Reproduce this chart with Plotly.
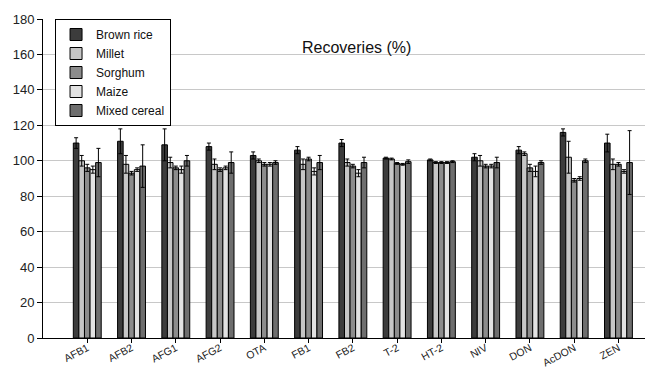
import plotly.graph_objects as go

analytes = ["AFB1", "AFB2", "AFG1", "AFG2", "OTA", "FB1", "FB2",
            "T-2", "HT-2", "NIV", "DON", "AcDON", "ZEN"]

brown_rice = [110, 111, 109, 108, 103, 106, 110, 101.5, 100.5, 102, 106, 116, 110]
brown_rice_sd = [3, 7, 9, 2, 2, 2, 2, 0.5, 0.5, 2, 2, 2, 5]

millet = [100, 98, 99, 98, 100, 98, 99, 101, 99, 100, 104, 102, 98]
millet_sd = [3, 5, 3, 3, 1, 3, 2, 0.5, 0.5, 3, 1, 9, 3]

sorghum = [96, 93, 96, 95, 98, 101, 97, 98.5, 99, 97, 96, 89, 98]
sorghum_sd = [2, 1, 1, 1, 1, 1, 1, 0.5, 0.5, 1, 2, 1, 1]

maize = [95, 95, 95, 96, 98, 94, 93, 98, 99, 97, 94, 90, 94]
maize_sd = [2, 1, 2, 1, 1, 2, 2, 0.5, 0.5, 1, 3, 1, 1]

mixed_cereal = [99, 97, 100, 99, 99, 99, 99, 99.5, 99.5, 99, 99, 100, 99]
mixed_cereal_sd = [8, 12, 3, 6, 1, 4, 3, 1, 0.5, 3, 1, 1, 18]

series = [
    ("Brown rice", brown_rice, brown_rice_sd, "#3c3c3c"),
    ("Millet", millet, millet_sd, "#c6c6c6"),
    ("Sorghum", sorghum, sorghum_sd, "#8c8c8c"),
    ("Maize", maize, maize_sd, "#e2e2e2"),
    ("Mixed cereal", mixed_cereal, mixed_cereal_sd, "#6e6e6e"),
]

fig = go.Figure()
for name, vals, sd, color in series:
    fig.add_trace(go.Bar(
        name=name, x=analytes, y=vals,
        marker=dict(color=color, line=dict(color="#000000", width=1)),
        error_y=dict(type="data", array=sd, visible=True,
                     color="#000000", thickness=1, width=2),
    ))

font_family = "Liberation Sans, Arial, sans-serif"

fig.update_layout(
    width=649, height=369,
    margin=dict(l=43, r=4, t=19, b=31),
    paper_bgcolor="white", plot_bgcolor="white",
    barmode="group", bargap=0.37, bargroupgap=0,
    font=dict(family=font_family, color="#222222"),
    showlegend=True,
    legend=dict(
        x=0.02, y=1.0, xanchor="left", yanchor="top",
        bgcolor="white", bordercolor="#000000", borderwidth=1,
        font=dict(size=12, family=font_family, color="#111111"),
        tracegroupgap=0, itemwidth=30,
    ),
    annotations=[dict(
        text="Recoveries (%)", x=0.52, y=0.945, xref="paper", yref="paper",
        showarrow=False, font=dict(size=16, family=font_family, color="#111111"),
    )],
)

fig.update_xaxes(
    type="category", range=[-1, 12.6], automargin=False,
    showline=True, linecolor="#000000", linewidth=1,
    ticks="outside", ticklen=4, tickcolor="#000000",
    ticklabelstandoff=-5,
    tickangle=-28, tickfont=dict(size=10.5, color="#222222"),
    showgrid=False,
)
fig.update_yaxes(
    range=[0, 180], dtick=20, automargin=False,
    showline=True, linecolor="#000000", linewidth=1,
    ticks="outside", ticklen=5, tickcolor="#000000",
    tickfont=dict(size=13, color="#222222"),
    showgrid=True, gridcolor="#c8c8c8", gridwidth=1,
    zeroline=False,
)

fig.write_html("out.html")
